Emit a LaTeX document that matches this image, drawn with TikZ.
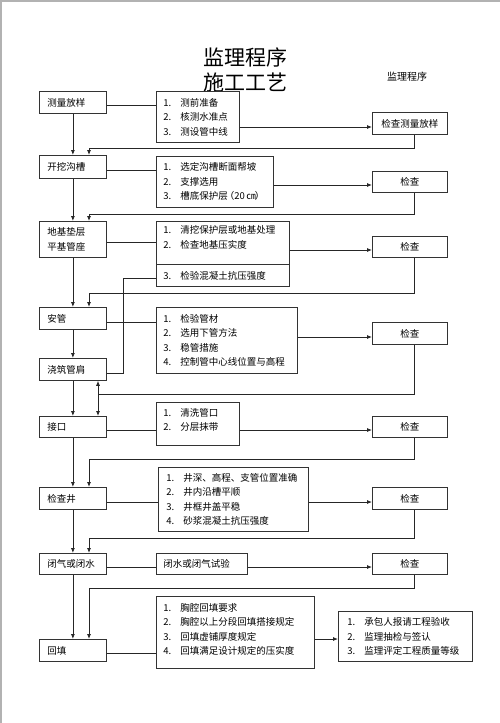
\documentclass[tikz,border=0pt]{standalone}
\usepackage{fontspec}
\setmainfont{Noto Sans CJK SC}
\usetikzlibrary{arrows.meta,calc}
\newcommand{\itm}[2]{\mbox{\makebox[17pt][l]{#1}#2}}
\tikzset{
  base/.style={draw=black!80, line width=0.8pt, inner ysep=0pt, anchor=north west,
    font=\fontsize{9.5pt}{14.5pt}\selectfont},
  lbox/.style={base, inner xsep=8pt, text width=51pt, align=left, minimum width=67pt},
  pbox/.style={base, inner xsep=7pt, align=left},
  cbox/.style={base, inner xsep=0pt, minimum width=75pt, align=center, text width=75pt},
  ln/.style={draw=black!85, line width=0.8pt},
  arr/.style={ln, -{Latex[length=5pt,width=4pt]}}
}
\begin{document}
\begin{tikzpicture}[x=1pt,y=-1pt]
\useasboundingbox (0,0) rectangle (500,723);
\fill[white] (0,0) rectangle (500,723);
\draw[gray!60, line width=1.5pt] (1,723) -- (1,0.75) -- (500,0.75);

% titles
\node[anchor=west, inner sep=0pt, font=\fontsize{21pt}{24pt}\selectfont] (t1) at (203,57) {监理程序};
\node[anchor=west, inner sep=0pt, font=\fontsize{21pt}{24pt}\selectfont] (t2) at (203,83) {施工工艺};
\node[inner sep=0pt, font=\fontsize{10pt}{12pt}\selectfont] (t3) at (407,77) {监理程序};

% left column
\node[lbox, minimum height=22pt] (m1) at (39,91) {测量放样};
\node[lbox, minimum height=23pt] (m2) at (39,155) {开挖沟槽};
\node[lbox, minimum height=36pt] (m3) at (39,221) {地基垫层\\平基管座};
\node[lbox, minimum height=22pt] (m4) at (39,307) {安管};
\node[lbox, minimum height=22pt] (m5) at (39,358) {浇筑管肩};
\node[lbox, minimum height=21pt] (m6) at (39,416) {接口};
\node[lbox, minimum height=22pt] (m7) at (39,487) {检查井};
\node[lbox, minimum height=21pt] (m8) at (39,553) {闭气或闭水};
\node[lbox, minimum height=22pt] (m9) at (39,639) {回填};

% middle column
\node[pbox, text width=69pt, minimum height=51pt] (p1) at (156,91)
  {\itm{1.}{测前准备}\\\itm{2.}{核测水准点}\\\itm{3.}{测设管中线}};
\node[pbox, text width=103pt, minimum height=51pt] (p2) at (156,156)
  {\itm{1.}{选定沟槽断面帮坡}\\\itm{2.}{支撑选用}\\\itm{3.}{槽底保护层\kern-3pt（20\kern1.5pt ㎝\kern-1pt）}};
\node[pbox, text width=119pt, minimum height=43pt] (p3a) at (156,221)
  {\itm{1.}{清挖保护层或地基处理}\\\itm{2.}{检查地基压实度}\\[-3pt]\mbox{}};
\node[pbox, text width=119pt, minimum height=22pt] (p3b) at (156,264)
  {\itm{3.}{检验混凝土抗压强度}};
\node[pbox, text width=127pt, minimum height=66pt] (p4) at (156,307)
  {\itm{1.}{检验管材}\\\itm{2.}{选用下管方法}\\\itm{3.}{稳管措施}\\\itm{4.}{控制管中心线位置与高程}};
\node[pbox, text width=69pt, minimum height=43pt] (p6) at (156,402)
  {\itm{1.}{清洗管口}\\\itm{2.}{分层抹带}\\[-6pt]\mbox{}};
\node[pbox, inner xsep=8pt, text width=134pt, minimum height=64pt] (p7) at (158,467)
  {\itm{1.}{井深、高程、支管位置准确}\\\itm{2.}{井内沿槽平顺}\\\itm{3.}{井框井盖平稳}\\\itm{4.}{砂浆混凝土抗压强度}};
\node[pbox, text width=77pt, minimum height=21pt] (p8) at (156,553) {闭水或闭气试验};
\node[pbox, text width=144pt, minimum height=72pt] (p9) at (156,596)
  {\itm{1.}{胸腔回填要求}\\\itm{2.}{胸腔以上分段回填搭接规定}\\\itm{3.}{回填虚铺厚度规定}\\\itm{4.}{回填满足设计规定的压实度}\\[-8pt]\mbox{}};
\node[pbox, inner xsep=9pt, text width=116pt, minimum height=50pt] (f) at (338,611)
  {\itm{1.}{承包人报请工程验收}\\\itm{2.}{监理抽检与签认}\\\itm{3.}{监理评定工程质量等级}};

% check column
\node[cbox, minimum height=22pt] (c1) at (372,112) {检查测量放样};
\node[cbox, minimum height=21pt] (c2) at (372,171) {检查};
\node[cbox, minimum height=21pt] (c3) at (372,236) {检查};
\node[cbox, minimum height=22pt] (c4) at (372,322) {检查};
\node[cbox, minimum height=21pt] (c5) at (372,416) {检查};
\node[cbox, minimum height=22pt] (c6) at (372,487) {检查};
\node[cbox, minimum height=21pt] (c7) at (372,553) {检查};

% left to middle
\draw[ln] (m1.east |- 0,105) -- (p1.west |- 0,105);
\draw[ln] (m2.east |- 0,170) -- (p2.west |- 0,170);
\draw[ln] (m3.east |- 0,242) -- (p3a.west |- 0,242);
\draw[ln] (m4.east |- 0,322) -- (p4.west |- 0,322);
\draw[ln] (m6.east |- 0,430) -- (p6.west |- 0,430);
\draw[ln] (m7.east |- 0,502) -- (p7.west |- 0,502);
\draw[ln] (m8.east |- 0,567) -- (p8.west |- 0,567);
\draw[ln] (m9.east |- 0,653) -- (p9.west |- 0,653);
\draw[ln] (p3b.west |- 0,278) -- (123,278) -- (123,373) -- (m5.east |- 0,373);

% middle to check
\draw[arr] (p1.east |- 0,127) -- (c1.west |- 0,127);
\draw[arr] (p2.east |- 0,185) -- (c2.west |- 0,185);
\draw[arr] (p3a.east |- 0,250) -- (c3.west |- 0,250);
\draw[arr] (p4.east |- 0,337) -- (c4.west |- 0,337);
\draw[arr] (p6.east |- 0,430) -- (c5.west |- 0,430);
\draw[arr] (p7.east |- 0,502) -- (c6.west |- 0,502);
\draw[arr] (p8.east |- 0,567) -- (c7.west |- 0,567);
\draw[arr] (p9.east |- 0,639) -- (f.west |- 0,639);

% vertical flow
\draw[arr] (m1.south) -- (m2.north);
\draw[arr] (m2.south) -- (m3.north);
\draw[arr] (m3.south) -- (m4.north);
\draw[arr] (m4.south) -- (m5.north);
\draw[arr] (m5.south) -- (m6.north);
\draw[arr] (m6.south) -- (m7.north);
\draw[arr] (m7.south) -- (m8.north);
\draw[arr] (m8.south) -- (m9.north);

% returns
\draw[arr] ([xshift=4.5pt]c1.south) |- (89,148) -- (m2.north -| 89,0);
\draw[arr] ([xshift=4.5pt]c2.south) |- (89,214) -- (m3.north -| 89,0);
\draw[arr] ([xshift=4.5pt]c3.south) |- (89,293) -- (m4.north -| 89,0);
\draw[ln] ([xshift=4.5pt]c4.south) |- (98,394);
\draw[arr] (98,394) -- (m5.south -| 98,0);
\draw[arr] (98,394) -- (m6.north -| 98,0);
\draw[arr] ([xshift=4.5pt]c5.south) |- (89,459) -- (m7.north -| 89,0);
\draw[arr] ([xshift=4.5pt]c6.south) |- (89,538) -- (m8.north -| 89,0);
\draw[arr] ([xshift=4.5pt]c7.south) |- (89,588) -- (m9.north -| 89,0);
\end{tikzpicture}
\end{document}
